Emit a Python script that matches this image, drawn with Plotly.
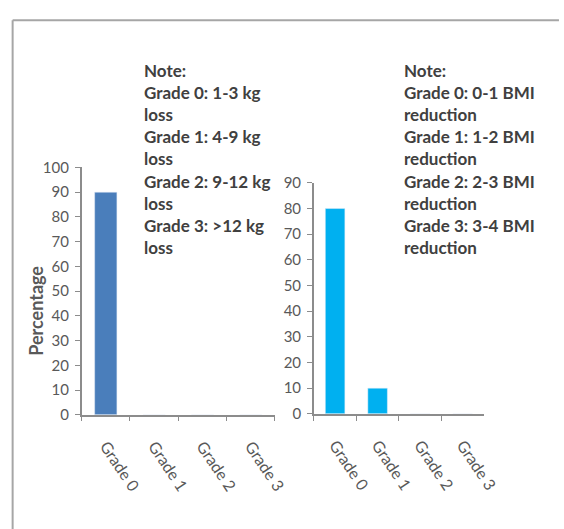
import plotly.graph_objects as go

# Data
grades = ["Grade 0", "Grade 1", "Grade 2", "Grade 3"]
weight_loss_pct = [90, 0, 0, 0]
bmi_reduction_pct = [80, 10, 0, 0]

weight_note = ["Note:", "Grade 0: 1-3 kg", "loss", "Grade 1: 4-9 kg", "loss",
               "Grade 2: 9-12 kg", "loss", "Grade 3: >12 kg", "loss"]
bmi_note = ["Note:", "Grade 0: 0-1 BMI", "reduction", "Grade 1: 1-2 BMI", "reduction",
            "Grade 2: 2-3 BMI", "reduction", "Grade 3: 3-4 BMI", "reduction"]

W, H = 564, 529
FONT = "Lato"
TICK_COLOR = "#595959"
AXIS_COLOR = "#8c8c8c"


def px_x(x):
    return x / W


def px_y(y):
    return 1 - y / H


fig = go.Figure()
fig.add_trace(go.Bar(x=grades, y=weight_loss_pct, marker_color="#4a7ebb",
                     xaxis="x", yaxis="y", showlegend=False))
fig.add_trace(go.Bar(x=grades, y=bmi_reduction_pct, marker_color="#00b0f0",
                     xaxis="x2", yaxis="y2", showlegend=False))

xcommon = dict(type="category", showline=True, linecolor=AXIS_COLOR, linewidth=1.5,
               ticks="outside", tickson="boundaries", ticklen=5, tickcolor=AXIS_COLOR,
               tickangle=56, ticklabelstandoff=14, showgrid=False, zeroline=False,
               tickfont=dict(family=FONT, size=16, color=TICK_COLOR))
ycommon = dict(showline=True, linecolor=AXIS_COLOR, linewidth=1.5, ticks="outside",
               ticklen=5, tickcolor=AXIS_COLOR, dtick=10, showgrid=False, zeroline=False,
               ticklabelstandoff=3,
               tickfont=dict(family=FONT, size=15, color=TICK_COLOR))

fig.update_layout(
    width=W, height=H,
    margin=dict(l=0, r=0, t=0, b=0),
    paper_bgcolor="white", plot_bgcolor="white",
    bargap=0.54,
    xaxis=dict(domain=[px_x(84), px_x(283)], anchor="y", **xcommon),
    yaxis=dict(domain=[px_y(419), px_y(163)], anchor="x", range=[0, 100], **ycommon),
    xaxis2=dict(domain=[px_x(323), px_x(498)], anchor="y2", **xcommon),
    yaxis2=dict(domain=[px_y(418), px_y(179)], anchor="x2", range=[0, 90], **ycommon),
)

# Notes beside each chart
note_font = dict(family=FONT, size=17, color="#404040")
fig.add_annotation(text="<b>" + "<br>".join(weight_note) + "</b>", xref="paper", yref="paper",
                   x=px_x(146), y=px_y(50), xanchor="left", yanchor="top", align="left",
                   showarrow=False, font=note_font)
fig.add_annotation(text="<b>" + "<br>".join(bmi_note) + "</b>", xref="paper", yref="paper",
                   x=px_x(414), y=px_y(50), xanchor="left", yanchor="top", align="left",
                   showarrow=False, font=note_font)

# Shared y-axis title
fig.add_annotation(text="<b>Percentage</b>", xref="paper", yref="paper",
                   x=px_x(24), y=px_y(311), textangle=-90, showarrow=False,
                   font=dict(family=FONT, size=18, color=TICK_COLOR))

# Chart frame (top and left edges)
frame = dict(color="#a6a6a6", width=2)
fig.add_shape(type="line", xref="paper", yref="paper", x0=px_x(13), x1=1.02,
              y0=px_y(10.5), y1=px_y(10.5), line=frame)
fig.add_shape(type="line", xref="paper", yref="paper", x0=px_x(13), x1=px_x(13),
              y0=px_y(10.5), y1=-0.02, line=frame)

fig.write_html("out.html")
